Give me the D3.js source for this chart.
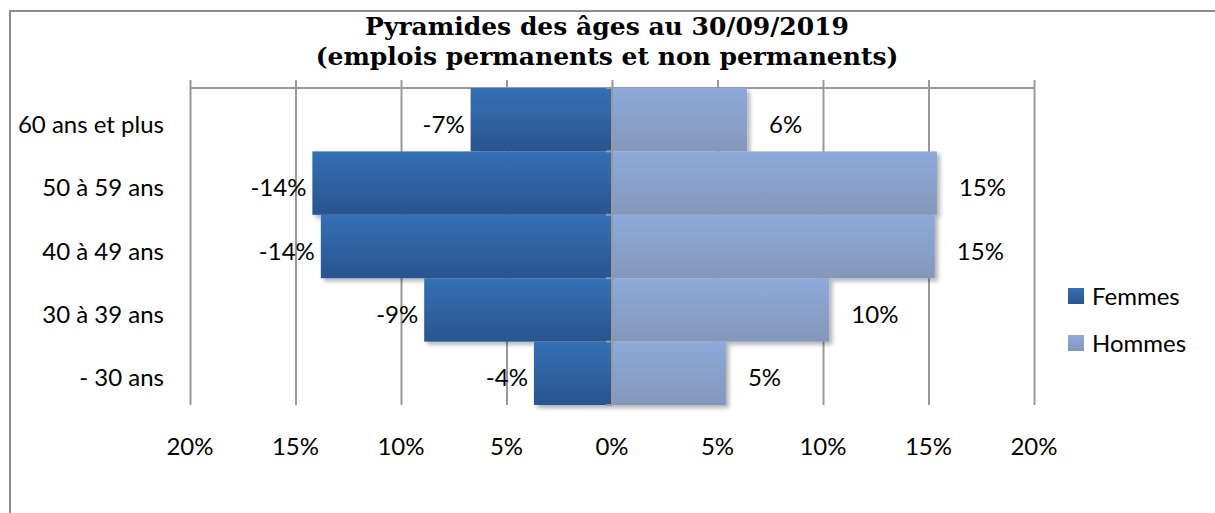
<!DOCTYPE html>
<html>
<head>
<meta charset="UTF-8">
<title>Pyramide des âges</title>
<script src="https://d3js.org/d3.v7.min.js"></script>
<style>
  body { margin: 0; background: #fff; }
  svg { display: block; }
</style>
</head>
<body>
<div id="chart"></div>
<script>
// age groups, top to bottom
var categories = ["60 ans et plus", "50 à 59 ans", "40 à 49 ans", "30 à 39 ans", "- 30 ans"];
// shares in %, women drawn to the left (negative)
var femmes = [-6.7, -14.2, -13.8, -8.9, -3.7];
var hommes = [6.4, 15.4, 15.3, 10.3, 5.4];
var tickValues = [-20, -15, -10, -5, 0, 5, 10, 15, 20];
var seriesNames = ["Femmes", "Hommes"];

var width = 1215, height = 513;
var labelFont = "Lato, 'Open Sans', sans-serif";

var svg = d3.select("#chart").append("svg")
    .attr("width", width)
    .attr("height", height);

var defs = svg.append("defs");

// vertical gradients for the bars
function addGradient(id, top, bottom) {
    var g = defs.append("linearGradient")
        .attr("id", id)
        .attr("x1", 0).attr("y1", 0).attr("x2", 0).attr("y2", 1);
    g.append("stop").attr("offset", "0%").attr("stop-color", top);
    g.append("stop").attr("offset", "100%").attr("stop-color", bottom);
}
addGradient("gradF", "#3470b6", "#2a548e");
addGradient("gradH", "#8eaadb", "#8497b9");

var shadow = defs.append("filter").attr("id", "shadow")
    .attr("x", "-5%").attr("y", "-10%").attr("width", "115%").attr("height", "130%");
shadow.append("feDropShadow")
    .attr("dx", 3).attr("dy", 3).attr("stdDeviation", 2)
    .attr("flood-color", "#000").attr("flood-opacity", 0.3);

// outer frame
svg.append("rect")
    .attr("x", 10).attr("y", 11)
    .attr("width", 1300).attr("height", 600)
    .attr("fill", "none")
    .attr("stroke", "#8c8c8c")
    .attr("stroke-width", 2);

// title
var title = svg.append("text")
    .attr("text-anchor", "middle")
    .attr("font-family", "'DejaVu Serif', serif")
    .attr("font-weight", "bold")
    .attr("font-size", "25px")
    .attr("fill", "#000");
title.append("tspan").attr("x", 607).attr("y", 35).text("Pyramides des âges au 30/09/2019");
title.append("tspan").attr("x", 607).attr("y", 65).text("(emplois permanents et non permanents)");

// scales
var x = d3.scaleLinear().domain([-20, 20]).range([190, 1034]);
var y = d3.scaleBand().domain(categories).range([88, 405]).padding(0);

// gridlines + tick marks above the top line
var grid = svg.append("g")
    .attr("transform", "translate(0,405)")
    .call(d3.axisTop(x).tickValues(tickValues).tickSize(325).tickFormat(""));
grid.select(".domain").remove();
grid.selectAll("line").attr("stroke", "#999").attr("stroke-width", 2);

// top horizontal line
svg.append("line")
    .attr("x1", x(-20)).attr("x2", x(20))
    .attr("y1", y.range()[0]).attr("y2", y.range()[0])
    .attr("stroke", "#999").attr("stroke-width", 2);

// tick labels (low, under the plot)
svg.append("g").selectAll("text")
    .data(tickValues)
    .join("text")
    .attr("x", function(d) { return x(d); })
    .attr("y", 455)
    .attr("text-anchor", "middle")
    .attr("font-family", labelFont)
    .attr("font-size", "24px")
    .attr("fill", "#000")
    .text(function(d) { return Math.abs(d) + "%"; });

// bars
var rows = categories.map(function(c, i) {
    return { cat: c, f: femmes[i], h: hommes[i] };
});

var bars = svg.append("g").attr("filter", "url(#shadow)");
bars.selectAll("rect.f")
    .data(rows)
    .join("rect")
    .attr("class", "f")
    .attr("x", function(d) { return x(d.f); })
    .attr("y", function(d) { return y(d.cat); })
    .attr("width", function(d) { return x(0) - x(d.f); })
    .attr("height", y.bandwidth())
    .attr("fill", "url(#gradF)");
bars.selectAll("rect.h")
    .data(rows)
    .join("rect")
    .attr("class", "h")
    .attr("x", x(0))
    .attr("y", function(d) { return y(d.cat); })
    .attr("width", function(d) { return x(d.h) - x(0); })
    .attr("height", y.bandwidth())
    .attr("fill", "url(#gradH)");

// category axis at 0%, ticks to the left
var yAxis = svg.append("g")
    .attr("transform", "translate(" + x(0) + ",0)");
yAxis.append("line")
    .attr("x1", 0).attr("x2", 0)
    .attr("y1", y.range()[0]).attr("y2", y.range()[1])
    .attr("stroke", "#999").attr("stroke-width", 2);
var bounds = categories.map(function(c) { return y(c); }).concat([y.range()[1]]);
yAxis.selectAll("line.tk")
    .data(bounds)
    .join("line")
    .attr("class", "tk")
    .attr("x1", -6).attr("x2", 0)
    .attr("y1", function(d) { return d; })
    .attr("y2", function(d) { return d; })
    .attr("stroke", "#999").attr("stroke-width", 2);

// category labels on the left
svg.append("g").selectAll("text")
    .data(categories)
    .join("text")
    .attr("x", 164)
    .attr("y", function(d) { return y(d) + y.bandwidth() / 2 + 13; })
    .attr("text-anchor", "end")
    .attr("font-family", labelFont)
    .attr("font-size", "24px")
    .attr("fill", "#000")
    .text(function(d) { return d; });

// value labels
var lbl = svg.append("g")
    .attr("font-family", labelFont)
    .attr("font-size", "24px")
    .attr("fill", "#000");
lbl.selectAll("text.f")
    .data(rows)
    .join("text")
    .attr("class", "f")
    .attr("x", function(d) { return x(d.f) - 6; })
    .attr("y", function(d) { return y(d.cat) + y.bandwidth() / 2 + 13; })
    .attr("text-anchor", "end")
    .text(function(d) { return Math.round(d.f) + "%"; });
lbl.selectAll("text.h")
    .data(rows)
    .join("text")
    .attr("class", "h")
    .attr("x", function(d) { return x(d.h) + 22; })
    .attr("y", function(d) { return y(d.cat) + y.bandwidth() / 2 + 13; })
    .attr("text-anchor", "start")
    .text(function(d) { return Math.round(d.h) + "%"; });

// legend
var legend = svg.append("g").selectAll("g")
    .data(seriesNames)
    .join("g")
    .attr("transform", function(d, i) { return "translate(1068," + (288 + i * 47) + ")"; });
legend.append("rect")
    .attr("width", 16).attr("height", 16)
    .attr("fill", function(d, i) { return i === 0 ? "url(#gradF)" : "url(#gradH)"; });
legend.append("text")
    .attr("x", 24)
    .attr("y", 17)
    .attr("font-family", labelFont)
    .attr("font-size", "24px")
    .attr("fill", "#000")
    .text(function(d) { return d; });
</script>
</body>
</html>
